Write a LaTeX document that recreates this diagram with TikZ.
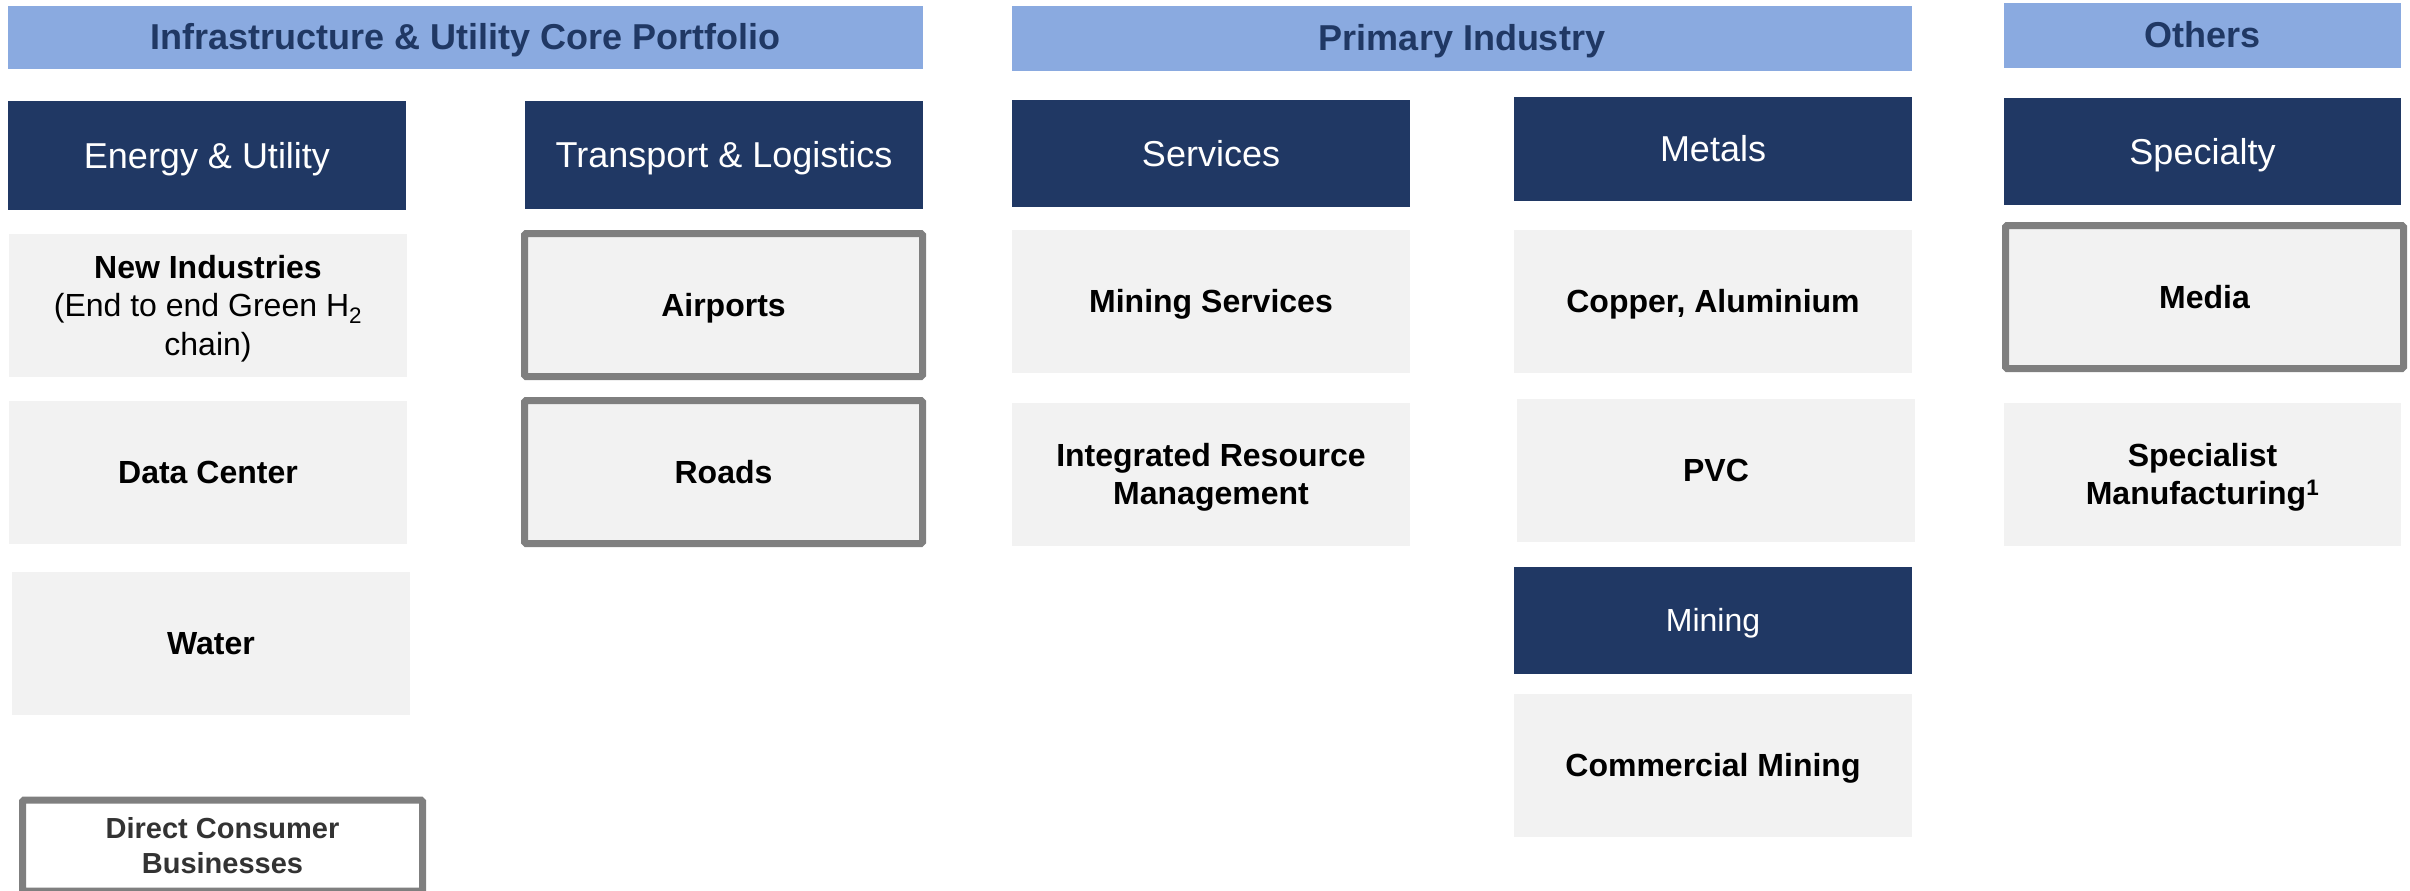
\documentclass[tikz,border=0pt]{standalone}
\usepackage{fontspec}
\setmainfont{Liberation Sans}
\definecolor{hdrblue}{RGB}{138,170,224}
\definecolor{navy}{RGB}{32,56,100}
\definecolor{itemgray}{RGB}{242,242,242}
\definecolor{bordergray}{RGB}{127,127,127}
\definecolor{darktext}{RGB}{51,51,51}
\tikzset{
  hdr/.style={fill=hdrblue, text=navy, inner sep=0pt, align=center,
    text height=32.6pt, text depth=7.6pt,
    font=\bfseries\fontsize{36}{43}\selectfont},
  cat/.style={fill=navy, text=white, inner sep=0pt, align=center,
    text height=32.6pt, text depth=7.6pt,
    font=\fontsize{36}{43}\selectfont},
  smallcat/.style={cat, text height=29pt, text depth=6.8pt,
    font=\fontsize{32}{38}\selectfont},
  item/.style={fill=itemgray, text=black, inner sep=0pt, align=center,
    text height=29pt, text depth=6.8pt,
    font=\bfseries\fontsize{32}{38.4}\selectfont},
  twoline/.style={text height=67.4pt},
  threeline/.style={text height=105.8pt},
  framed/.style={item, draw=bordergray, line width=7pt, rounded corners=1.5pt},
}
\begin{document}
\begin{tikzpicture}[x=1pt,y=-1pt]
\useasboundingbox (0,0) rectangle (2410,891);
% headers
\node[hdr, minimum width=915pt, minimum height=63pt] (h1) at (465.5,37.5) {Infrastructure \& Utility Core Portfolio};
\node[hdr, minimum width=900pt, minimum height=65pt] (h2) at (1462,38.5) {Primary Industry};
\node[hdr, minimum width=397pt, minimum height=65pt] (h3) at (2202.5,35.5) {Others};
% categories
\node[cat, minimum width=398pt, minimum height=109pt] (energy) at (207,155.5) {Energy \& Utility};
\node[cat, minimum width=398pt, minimum height=108pt] (transport) at (724,155) {Transport \& Logistics};
\node[cat, minimum width=398pt, minimum height=107pt] (services) at (1211,153.5) {Services};
\node[cat, minimum width=398pt, minimum height=104pt] (metals) at (1713,149) {Metals};
\node[cat, minimum width=397pt, minimum height=107pt] (specialty) at (2202.5,151.5) {Specialty};
\node[smallcat, minimum width=398pt, minimum height=107pt] (mining) at (1713,620.5) {Mining};
% items
\node[item, threeline, minimum width=398pt, minimum height=143pt] (newind) at (208,305.5)
  {New Industries\\{\mdseries(End to end Green H\textsubscript{2}}\\{\mdseries chain)}};
\node[item, minimum width=398pt, minimum height=143pt] (datac) at (208,472.5) {Data Center};
\node[item, minimum width=398pt, minimum height=143pt] (water) at (211,643.5) {Water};
\node[framed, minimum width=398pt, minimum height=143pt] (airports) at (723.5,305) {Airports};
\node[framed, minimum width=398pt, minimum height=143pt] (roads) at (723.5,472) {Roads};
\node[framed, fill=white, text=darktext, minimum width=400pt, minimum height=91pt,
  text height=61.2pt, text depth=6.1pt,
  font=\bfseries\fontsize{29}{35}\selectfont] (direct) at (222.5,845.5) {Direct Consumer\\Businesses};
\node[item, minimum width=398pt, minimum height=143pt] (minserv) at (1211,301.5) {Mining Services};
\node[item, twoline, minimum width=398pt, minimum height=143pt] (irm) at (1211,474.5) {Integrated Resource\\Management};
\node[item, minimum width=398pt, minimum height=143pt] (copper) at (1713,301.5) {Copper, Aluminium};
\node[item, minimum width=398pt, minimum height=143pt] (pvc) at (1716,470.5) {PVC};
\node[item, minimum width=398pt, minimum height=143pt] (commmining) at (1713,765.5) {Commercial Mining};
\node[framed, minimum width=398pt, minimum height=143pt] (media) at (2204.5,297) {Media};
\node[item, twoline, minimum width=397pt, minimum height=143pt] (specialist) at (2202.5,474.5) {Specialist\\Manufacturing\textsuperscript{1}};
\end{tikzpicture}
\end{document}
